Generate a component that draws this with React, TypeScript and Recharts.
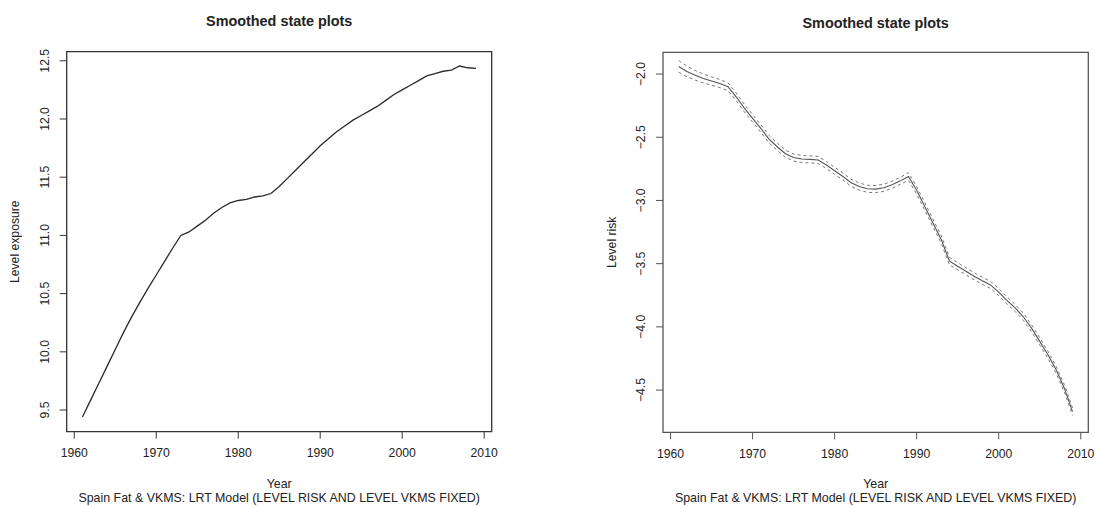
import React from "react";
import { LineChart, Line, XAxis, YAxis, ReferenceArea } from "recharts";

const FONT = '"Liberation Sans", Arial, Helvetica, sans-serif';

const years = Array.from({ length: 49 }, (_, i) => 1961 + i);
const yearTicks = [1960, 1970, 1980, 1990, 2000, 2010];

// smoothed level of exposure, 1961-2009
const exposureLevel = [
  9.44, 9.585, 9.73, 9.875, 10.02, 10.165, 10.3, 10.425, 10.545, 10.66,
  10.775, 10.89, 11.0, 11.03, 11.08, 11.13, 11.19, 11.24, 11.28, 11.3,
  11.31, 11.33, 11.34, 11.36, 11.42, 11.49, 11.56, 11.63, 11.7, 11.77,
  11.83, 11.89, 11.94, 11.99, 12.03, 12.07, 12.11, 12.16, 12.21, 12.25,
  12.29, 12.33, 12.37, 12.39, 12.41, 12.42, 12.455, 12.44, 12.435,
];
const exposureTicks = [9.5, 10, 10.5, 11, 11.5, 12, 12.5];

// smoothed level of risk with its confidence bounds, 1961-2009
const riskLevel = [
  -1.94, -1.98, -2.01, -2.035, -2.055, -2.075, -2.1, -2.18, -2.27, -2.35,
  -2.43, -2.515, -2.575, -2.63, -2.66, -2.672, -2.675, -2.68, -2.72, -2.765,
  -2.81, -2.86, -2.89, -2.908, -2.91, -2.9, -2.875, -2.845, -2.81, -2.92,
  -3.05, -3.18, -3.31, -3.48, -3.52, -3.56, -3.6, -3.635, -3.668, -3.725,
  -3.79, -3.85, -3.92, -4.01, -4.115, -4.22, -4.34, -4.485, -4.67,
];
const riskUpper = [
  -1.894, -1.938, -1.972, -2.0, -2.022, -2.043, -2.069, -2.15, -2.24, -2.32,
  -2.4, -2.485, -2.546, -2.601, -2.632, -2.644, -2.647, -2.652, -2.692, -2.737,
  -2.782, -2.832, -2.862, -2.88, -2.882, -2.872, -2.847, -2.817, -2.78, -2.89,
  -3.02, -3.15, -3.28, -3.45, -3.492, -3.532, -3.572, -3.607, -3.64, -3.697,
  -3.762, -3.822, -3.892, -3.982, -4.087, -4.192, -4.312, -4.457, -4.64,
];
const riskLower = [
  -1.986, -2.022, -2.048, -2.07, -2.088, -2.107, -2.131, -2.21, -2.3, -2.38,
  -2.46, -2.545, -2.604, -2.659, -2.688, -2.7, -2.703, -2.708, -2.748, -2.793,
  -2.838, -2.888, -2.918, -2.936, -2.938, -2.928, -2.903, -2.873, -2.84, -2.95,
  -3.08, -3.21, -3.34, -3.51, -3.548, -3.588, -3.628, -3.663, -3.696, -3.753,
  -3.818, -3.878, -3.948, -4.038, -4.143, -4.248, -4.368, -4.513, -4.7,
];
const riskTicks = [-4.5, -4, -3.5, -3, -2.5, -2];

const TITLE = "Smoothed state plots";
const SUBTITLE = "Spain Fat & VKMS: LRT Model (LEVEL RISK AND LEVEL VKMS FIXED)";

const exposureData = years.map((year, i) => ({ year, level: exposureLevel[i] }));
const riskData = years.map((year, i) => ({
  year,
  level: riskLevel[i],
  upper: riskUpper[i],
  lower: riskLower[i],
}));

const PANEL_W = 540;
const PANEL_H = 507;
const Y_AXIS_W = 50;
const X_AXIS_H = 40;
const TICK = 7;
const X_DOMAIN: [number, number] = [1959.08, 2010.92];

const fmt = (v: number) => v.toFixed(1).replace("-", "\u2212");

interface SeriesDef {
  key: string;
  color: string;
  dash?: string;
  width: number;
}

interface PanelProps {
  left: number;
  box: { l: number; r: number; t: number; b: number };
  data: any[];
  yDomain: [number, number];
  yTicks: number[];
  series: SeriesDef[];
  yLabel: string;
  yLabelX: number;
  ink: string;
  textColor: string;
  titleY: number;
}

function StatePanel({ left, box, data, yDomain, yTicks, series, yLabel, yLabelX, ink, textColor, titleY }: PanelProps) {
  const cx = (box.l + box.r) / 2;
  const cy = (box.t + box.b) / 2;

  const xTick = ({ x, y, payload }: any) => (
    <text x={x} y={y + 14.6} textAnchor="middle" dominantBaseline="central"
      fontSize={12.2} fontFamily={FONT} fill={textColor}>
      {payload.value}
    </text>
  );

  const yTick = ({ x, y, payload }: any) => {
    const tx = x - 15;
    return (
      <text x={tx} y={y} transform={`rotate(-90, ${tx}, ${y})`} textAnchor="middle"
        dominantBaseline="central" fontSize={12.2} fontFamily={FONT} fill={textColor}>
        {fmt(payload.value)}
      </text>
    );
  };

  return (
    <div style={{ position: "absolute", left, top: 0, width: PANEL_W, height: PANEL_H }}>
      <LineChart
        width={PANEL_W}
        height={PANEL_H}
        data={data}
        margin={{
          top: box.t,
          left: box.l - Y_AXIS_W,
          right: PANEL_W - box.r,
          bottom: PANEL_H - box.b - X_AXIS_H,
        }}
      >
        <XAxis
          type="number"
          dataKey="year"
          domain={X_DOMAIN}
          ticks={yearTicks}
          allowDataOverflow
          height={X_AXIS_H}
          axisLine={false}
          tickSize={TICK}
          tickMargin={0}
          tickLine={{ stroke: ink, strokeWidth: 1 }}
          tick={xTick}
          interval={0}
        />
        <YAxis
          type="number"
          domain={yDomain}
          ticks={yTicks}
          allowDataOverflow
          width={Y_AXIS_W}
          axisLine={false}
          tickSize={TICK}
          tickMargin={0}
          tickLine={{ stroke: ink, strokeWidth: 1 }}
          tick={yTick}
          interval={0}
        />
        <ReferenceArea
          x1={X_DOMAIN[0]}
          x2={X_DOMAIN[1]}
          y1={yDomain[0]}
          y2={yDomain[1]}
          fill="none"
          stroke={ink}
          strokeWidth={1.3}
          ifOverflow="visible"
        />
        {series.map((s) => (
          <Line
            key={s.key}
            type="linear"
            dataKey={s.key}
            stroke={s.color}
            strokeWidth={s.width}
            strokeDasharray={s.dash}
            dot={false}
            activeDot={false}
            isAnimationActive={false}
          />
        ))}
      </LineChart>
      <svg width={PANEL_W} height={PANEL_H}
        style={{ position: "absolute", left: 0, top: 0, pointerEvents: "none" }}>
        <g fontFamily={FONT} fill={textColor}>
          <text x={cx} y={titleY} textAnchor="middle" dominantBaseline="central"
            fontSize={14.4} fontWeight="bold">
            {TITLE}
          </text>
          <text x={yLabelX} y={cy} transform={`rotate(-90, ${yLabelX}, ${cy})`}
            textAnchor="middle" dominantBaseline="central" fontSize={12.2}>
            {yLabel}
          </text>
          <text x={cx} y={box.b + 51.8} textAnchor="middle" dominantBaseline="central" fontSize={12.4}>
            Year
          </text>
          <text x={cx} y={box.b + 66} textAnchor="middle" dominantBaseline="central" fontSize={12.4}>
            {SUBTITLE}
          </text>
        </g>
      </svg>
    </div>
  );
}

export default function App() {
  return (
    <div style={{ position: "absolute", left: 0, top: 0, width: 1095, height: 507, background: "#fff" }}>
      <StatePanel
        left={0}
        box={{ l: 66.7, r: 491.7, t: 51.7, b: 431.7 }}
        data={exposureData}
        yDomain={[9.314, 12.578]}
        yTicks={exposureTicks}
        series={[{ key: "level", color: "#2a2a2a", width: 1.3 }]}
        yLabel="Level exposure"
        yLabelX={15.5}
        ink="#333"
        textColor="#222"
        titleY={21}
      />
      <StatePanel
        left={555}
        box={{ l: 108, r: 533.3, t: 52.3, b: 432.3 }}
        data={riskData}
        yDomain={[-4.834, -1.828]}
        yTicks={riskTicks}
        series={[
          { key: "upper", color: "#777", width: 1, dash: "3 3" },
          { key: "lower", color: "#777", width: 1, dash: "3 3" },
          { key: "level", color: "#555", width: 1.1 },
        ]}
        yLabel="Level risk"
        yLabelX={57}
        ink="#555"
        textColor="#222"
        titleY={22.7}
      />
    </div>
  );
}
